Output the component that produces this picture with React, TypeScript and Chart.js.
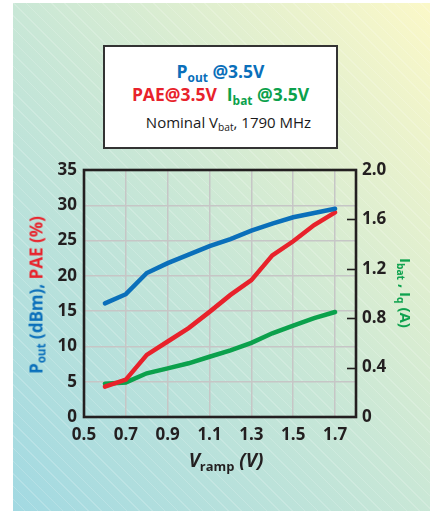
import React, { useEffect, useRef, useLayoutEffect } from "react";
import { Chart, registerables } from "chart.js";

Chart.register(...registerables);

const vramp = [0.6, 0.7, 0.8, 0.9, 1.0, 1.1, 1.2, 1.3, 1.4, 1.5, 1.6, 1.7];
const pout = [16.1, 17.4, 20.4, 21.8, 23.0, 24.2, 25.2, 26.4, 27.4, 28.3, 28.9, 29.5];
const pae = [4.3, 5.3, 8.8, 10.7, 12.6, 14.9, 17.3, 19.4, 22.9, 24.9, 27.2, 29.0];
const ibat = [0.27, 0.28, 0.354, 0.394, 0.435, 0.488, 0.54, 0.6, 0.678, 0.74, 0.8, 0.85];
const xTicks = [0.5, 0.7, 0.9, 1.1, 1.3, 1.5, 1.7];
const rightInnerTicks = [0.4, 0.8, 1.2, 1.6];

const BLUE = "#0a6fba";
const RED = "#e8222b";
const GREEN = "#0ba14c";
const DARK = "#231f20";
const FONT = "'Open Sans', 'DejaVu Sans', sans-serif";

const framePlugin = {
  id: "frame",
  afterDraw(chart: any) {
    const { ctx, chartArea } = chart;
    const y1 = chart.scales.y1;
    ctx.save();
    ctx.strokeStyle = DARK;
    ctx.lineWidth = 1.6;
    for (const v of rightInnerTicks) {
      const py = Math.round(y1.getPixelForValue(v)) + 0.5;
      ctx.beginPath();
      ctx.moveTo(chartArea.right - 9, py);
      ctx.lineTo(chartArea.right, py);
      ctx.stroke();
    }
    ctx.lineWidth = 2.6;
    ctx.strokeRect(chartArea.left, chartArea.top, chartArea.right - chartArea.left, chartArea.bottom - chartArea.top);
    ctx.restore();
  },
};

export default function App() {
  const ref = useRef<HTMLCanvasElement | null>(null);

  useLayoutEffect(() => {
    document.body.style.margin = "0";
  }, []);

  useEffect(() => {
    if (!ref.current) return;
    const tickFont = { family: FONT, size: 17, weight: "bold" as const };
    const chart = new Chart(ref.current, {
      type: "line",
      data: {
        datasets: [
          {
            label: "Pout",
            data: vramp.map((x, i) => ({ x, y: pout[i] })),
            borderColor: BLUE,
            borderWidth: 4.5,
            pointRadius: 0,
            borderCapStyle: "round",
            yAxisID: "y",
          },
          {
            label: "PAE",
            data: vramp.map((x, i) => ({ x, y: pae[i] })),
            borderColor: RED,
            borderWidth: 4.5,
            pointRadius: 0,
            borderCapStyle: "round",
            yAxisID: "y",
          },
          {
            label: "Ibat",
            data: vramp.map((x, i) => ({ x, y: ibat[i] })),
            borderColor: GREEN,
            borderWidth: 4.5,
            pointRadius: 0,
            borderCapStyle: "round",
            yAxisID: "y1",
          },
        ],
      },
      options: {
        responsive: false,
        animation: false,
        devicePixelRatio: 1,
        layout: { padding: { top: 170, bottom: 64, left: 0, right: 0 } },
        plugins: { legend: { display: false }, tooltip: { enabled: false } },
        scales: {
          x: {
            type: "linear",
            min: 0.5,
            max: 1.8,
            afterBuildTicks: (s: any) => {
              s.ticks = xTicks.map((v) => ({ value: v }));
            },
            afterFit: (s: any) => {
              s.height = 30;
            },
            border: { display: false },
            grid: { color: "#c6c6c6", lineWidth: 1.5, drawTicks: false },
            ticks: {
              font: tickFont,
              color: DARK,
              padding: 8,
              maxRotation: 0,
              autoSkip: false,
              callback: (v: any) => Number(v).toFixed(1),
            },
          },
          y: {
            position: "left",
            min: 0,
            max: 35,
            afterFit: (s: any) => {
              s.width = 84;
            },
            border: { display: false },
            grid: { color: "#c6c6c6", lineWidth: 1.5, drawTicks: false },
            ticks: { stepSize: 5, font: tickFont, color: DARK, padding: 7 },
          },
          y1: {
            position: "right",
            min: 0,
            max: 2,
            afterFit: (s: any) => {
              s.width = 78;
            },
            border: { display: false },
            grid: { display: false, drawTicks: false },
            ticks: {
              stepSize: 0.4,
              font: tickFont,
              color: DARK,
              padding: 6,
              callback: (v: any) => (Number(v) === 0 ? "0" : Number(v).toFixed(1)),
            },
          },
        },
      },
      plugins: [framePlugin],
    });
    return () => chart.destroy();
  }, []);

  const sub: React.CSSProperties = { fontSize: "0.68em", verticalAlign: "-0.3em", lineHeight: 0 };

  return (
    <div style={{ position: "relative", width: 434, height: 511, overflow: "hidden", background: "#fff", fontFamily: FONT }}>
      <div
        style={{
          position: "absolute",
          left: 13,
          top: 3,
          width: 417,
          height: 508,
          background:
            "repeating-linear-gradient(45deg, rgba(255,255,255,0) 0px, rgba(255,255,255,0) 8px, rgba(255,255,255,0.18) 8px, rgba(255,255,255,0.18) 9px), linear-gradient(to top right, #a2d9e2 0%, #c9e7d6 50%, #fbf8c8 100%)",
        }}
      />
      <canvas ref={ref} width={434} height={511} style={{ position: "absolute", left: 0, top: 0, width: 434, height: 511 }} />
      {/* legend box */}
      <div
        style={{
          position: "absolute",
          left: 103,
          top: 45,
          width: 235,
          height: 104,
          boxSizing: "border-box",
          background: "#fff",
          border: "2px solid #333",
        }}
      >
        <div style={{ position: "absolute", left: 0, right: 0, top: 12, textAlign: "center", color: BLUE, fontWeight: 700, fontSize: 17.5, whiteSpace: "nowrap" }}>
          P<span style={sub}>out</span> @3.5V
        </div>
        <div style={{ position: "absolute", left: 0, right: 0, top: 35, textAlign: "center", fontWeight: 700, fontSize: 17.5, whiteSpace: "nowrap" }}>
          <span style={{ color: RED }}>PAE@3.5V</span>
          <span style={{ color: GREEN, marginLeft: 10 }}>
            I<span style={sub}>bat</span> @3.5V
          </span>
        </div>
        <div style={{ position: "absolute", left: 0, right: 0, top: 65, textAlign: "center", color: "#1a1a1a", fontWeight: 400, fontSize: 15, whiteSpace: "nowrap", paddingLeft: 16, boxSizing: "border-box" }}>
          Nominal V<span style={sub}>bat</span>, 1790 MHz
        </div>
      </div>
      {/* left axis title */}
      <div
        style={{
          position: "absolute",
          left: 36,
          top: 295,
          transform: "translate(-50%, -50%) rotate(-90deg)",
          whiteSpace: "nowrap",
          fontWeight: 700,
          fontSize: 17,
        }}
      >
        <span style={{ color: BLUE }}>
          P<span style={sub}>out</span> (dBm),
        </span>
        <span style={{ color: RED }}> PAE (%)</span>
      </div>
      {/* right axis title */}
      <div
        style={{
          position: "absolute",
          left: 406,
          top: 293,
          transform: "translate(-50%, -50%) rotate(90deg)",
          whiteSpace: "nowrap",
          fontWeight: 700,
          fontSize: 15,
          color: GREEN,
        }}
      >
        I<span style={sub}>bat</span> , I<span style={sub}>q</span> (A)
      </div>
      {/* x axis title */}
      <div
        style={{
          position: "absolute",
          left: 226,
          top: 460,
          transform: "translate(-50%, -50%)",
          whiteSpace: "nowrap",
          fontWeight: 700,
          fontSize: 19,
          color: DARK,
        }}
      >
        <i>V</i>
        <span style={sub}>ramp</span> <i>(V)</i>
      </div>
    </div>
  );
}
